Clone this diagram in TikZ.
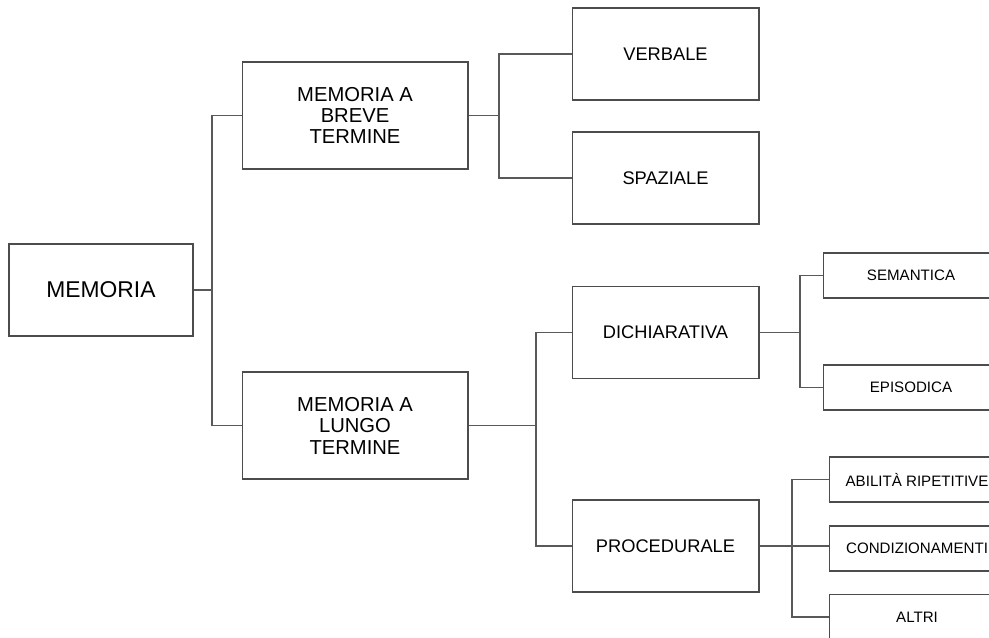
\documentclass[tikz,border=0pt]{standalone}
\usepackage{fontspec}
\setmainfont{Liberation Sans}
\usetikzlibrary{positioning,calc}

\tikzset{
  box/.style={draw=black!70,line width=0.6pt,fill=white,align=center,inner sep=0pt},
  rootbox/.style={box,minimum width=3.68cm,minimum height=1.84cm,font=\fontsize{13}{15}\selectfont},
  bigbox/.style={box,minimum width=4.52cm,minimum height=2.14cm,font=\fontsize{11.5}{12.2}\selectfont},
  midbox/.style={box,minimum width=3.74cm,minimum height=1.84cm,font=\fontsize{10.4}{12}\selectfont},
  leafbox/.style={box,minimum width=3.5cm,minimum height=0.9cm,font=\fontsize{8.6}{10}\selectfont},
  link/.style={draw=black!65,line width=0.6pt}
}

\begin{document}
\begin{tikzpicture}[x=0.02cm,y=-0.02cm]
            \useasboundingbox (0,0) rectangle (989,637);

            % caselle
            \node[rootbox] (mem) at (101,290) {MEMORIA};
            \node[bigbox] (breve) at (355,115.5) {MEMORIA A\\BREVE\\TERMINE};
            \node[bigbox] (lungo) at (355,425.5) {MEMORIA A\\LUNGO\\TERMINE};

            \node[midbox] (verb) at (665.5,54) {VERBALE};
            \node[midbox] (spaz) at (665.5,178) {SPAZIALE};
            \node[midbox] (dich) at (665.5,332.5) {DICHIARATIVA};
            \node[midbox] (proc) at (665.5,546) {PROCEDURALE};

            \node[leafbox,anchor=west] (sem) at (823,275.5) {SEMANTICA};
            \node[leafbox,anchor=west] (epi) at (823,387.5) {EPISODICA};
            \node[leafbox,anchor=west] (abil) at (829,479.5) {ABILITÀ RIPETITIVE};
            \node[leafbox,anchor=west] (cond) at (829,548.5) {CONDIZIONAMENTI};
            \node[leafbox,anchor=west] (altri) at (829,617) {ALTRI};

            % punti di diramazione
            \coordinate (j1) at (212,290);
            \coordinate (j2) at (499,115.5);
            \coordinate (j3) at (536,425.5);
            \coordinate (j4) at (800,332.5);
            \coordinate (j5) at (792,546);

            % collegamenti
            \draw[link] (mem.east) -- (j1);
            \draw[link] (breve.west) -| (j1) |- (lungo.west);
            \draw[link] (breve.east) -- (j2);
            \draw[link] (verb.west) -| (j2) |- (spaz.west);
            \draw[link] (lungo.east) -- (j3);
            \draw[link] (dich.west) -| (j3) |- (proc.west);
            \draw[link] (dich.east) -- (j4);
            \draw[link] (sem.west) -| (j4) |- (epi.west);
            \draw[link] (proc.east) -- (j5) -- (j5 -| cond.west);
            \draw[link] (abil.west) -| (j5) |- (altri.west);
\end{tikzpicture}
\end{document}
